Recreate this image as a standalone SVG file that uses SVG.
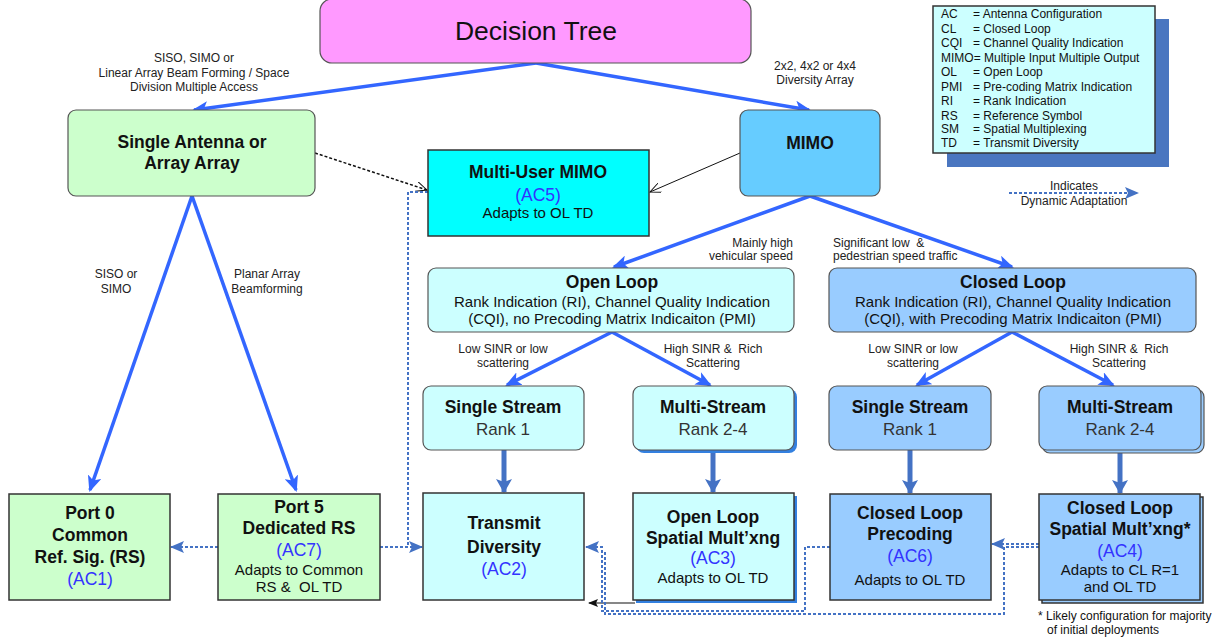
<svg xmlns="http://www.w3.org/2000/svg" width="1225" height="643" viewBox="0 0 1225 643">
<defs>
<style>
text{font-family:"Liberation Sans",Arial,sans-serif;fill:#111;white-space:pre}
.t{font-size:17.5px;font-weight:bold;text-anchor:middle}
.ac{font-size:17.5px;fill:#3333FF;text-anchor:middle}
.rk{font-size:17px;fill:#333;text-anchor:middle}
.d{font-size:15px;text-anchor:middle}
.l{font-size:12px;fill:#222;text-anchor:middle}
.lg{font-size:12px;fill:#111}
.rb{stroke:#555;stroke-width:1.2}
.sq{stroke:#333;stroke-width:1.5}
.fb{fill:none;stroke:#3366FF;stroke-width:3.5}
.fs{fill:none;stroke:#4472C4;stroke-width:5}
.dash{fill:none;stroke:#4472C4;stroke-width:2;stroke-dasharray:3 2}
</style>
<marker id="ab" markerUnits="userSpaceOnUse" viewBox="0 0 16 14" markerWidth="16" markerHeight="14" refX="14" refY="7" orient="auto"><path d="M0,0 L16,7 L0,14 L4,7 z" fill="#3366FF"/></marker>
<marker id="as" markerUnits="userSpaceOnUse" viewBox="0 0 14 16" markerWidth="14" markerHeight="16" refX="13" refY="8" orient="auto"><path d="M0,0 L14,8 L0,16 L3,8 z" fill="#4472C4"/></marker>
<marker id="ad" markerUnits="userSpaceOnUse" viewBox="0 0 14 12" markerWidth="14" markerHeight="12" refX="13" refY="6" orient="auto"><path d="M0,0 L14,6 L0,12 L3,6 z" fill="#4472C4"/></marker>
<marker id="ao" markerUnits="userSpaceOnUse" viewBox="0 0 12 10" markerWidth="12" markerHeight="10" refX="11" refY="5" orient="auto"><path d="M0,0 L11,5 L0,10" fill="none" stroke="#111" stroke-width="1"/></marker>
<marker id="ak" markerUnits="userSpaceOnUse" viewBox="0 0 10 8" markerWidth="10" markerHeight="8" refX="9" refY="4" orient="auto"><path d="M0,0 L10,4 L0,8 L2,4 z" fill="#111"/></marker>
</defs>

<g id="connectors">
<line class="fb" x1="536" y1="63" x2="194" y2="110" marker-end="url(#ab)"/>
<line class="fb" x1="536" y1="63" x2="809" y2="110" marker-end="url(#ab)"/>
<line class="fb" x1="192" y1="196" x2="90" y2="490" marker-end="url(#ab)"/>
<line class="fb" x1="192" y1="196" x2="296" y2="490" marker-end="url(#ab)"/>
<line class="fb" x1="810" y1="196" x2="614" y2="267" marker-end="url(#ab)"/>
<line class="fb" x1="810" y1="196" x2="1012" y2="267" marker-end="url(#ab)"/>
<line class="fb" x1="612" y1="332" x2="507" y2="385" marker-end="url(#ab)"/>
<line class="fb" x1="612" y1="332" x2="710" y2="385" marker-end="url(#ab)"/>
<line class="fb" x1="1012" y1="332" x2="917" y2="385" marker-end="url(#ab)"/>
<line class="fb" x1="1012" y1="332" x2="1113" y2="385" marker-end="url(#ab)"/>
<line class="fs" x1="504" y1="450" x2="504" y2="492" marker-end="url(#as)"/>
<line class="fs" x1="713" y1="450" x2="713" y2="492" marker-end="url(#as)"/>
<line class="fs" x1="910" y1="450" x2="910" y2="493" marker-end="url(#as)"/>
<line class="fs" x1="1120" y1="450" x2="1120" y2="493" marker-end="url(#as)"/>
<line x1="315" y1="153" x2="427" y2="190" stroke="#111" stroke-width="1.5" stroke-dasharray="3 2" marker-end="url(#ao)"/>
<line x1="740" y1="153" x2="650" y2="192" stroke="#111" stroke-width="1" marker-end="url(#ao)"/>
<line class="dash" x1="218" y1="547" x2="171" y2="547" marker-end="url(#ad)"/>
<line class="dash" x1="380" y1="547" x2="422" y2="547" marker-end="url(#ad)"/>
<path class="dash" d="M428,192 H408 V547"/>
<line x1="635" y1="603" x2="589" y2="603" stroke="#111" stroke-width="1.2" marker-end="url(#ak)"/>
<path class="dash" d="M830,547 H805 V611 H602 V547 H586" marker-end="url(#ad)"/>
<path class="dash" d="M1039,547 H1004 V614 H605 V550"/>
<line class="dash" x1="1039" y1="544" x2="992" y2="544" marker-end="url(#ad)"/>
<line class="dash" x1="1009" y1="193" x2="1138" y2="193" marker-end="url(#ad)"/>
</g>

<g id="decision-tree">
<rect x="320" y="-1" width="431" height="64" rx="12" fill="#FF99FF" class="rb"/>
<text x="536" y="40" style="font-size:26.5px;text-anchor:middle">Decision Tree</text>
</g>

<g id="label-left">
<text class="l" x="194" y="62">SISO, SIMO or</text>
<text class="l" x="194" y="76.5">Linear Array Beam Forming / Space</text>
<text class="l" x="194" y="91">Division Multiple Access</text>
</g>
<g id="label-right">
<text class="l" x="815" y="70">2x2, 4x2 or 4x4</text>
<text class="l" x="815" y="84">Diversity Array</text>
</g>

<g id="single-antenna">
<rect x="68" y="110" width="247" height="86" rx="8" fill="#CCFFCC" class="rb"/>
<text class="t" x="192" y="148">Single Antenna or</text>
<text class="t" x="192" y="169">Array Array</text>
</g>

<g id="mimo">
<rect x="740" y="110" width="140" height="86" rx="8" fill="#66CCFF" class="rb"/>
<text class="t" x="810" y="149">MIMO</text>
</g>

<g id="mu-mimo">
<rect x="428" y="150" width="221" height="86" fill="#00FFFF" class="sq"/>
<text class="t" x="538" y="178">Multi-User MIMO</text>
<text class="ac" x="538" y="201">(AC5)</text>
<text class="d" x="538" y="218">Adapts to OL TD</text>
</g>

<g id="legend">
<rect x="947" y="19" width="222" height="148" fill="#4A76C0"/>
<rect x="933" y="6" width="222" height="147" fill="#CCFFFF" class="sq"/>
<text class="lg" x="941" y="18">AC</text><text class="lg" x="973" y="18">= Antenna Configuration</text>
<text class="lg" x="941" y="33">CL</text><text class="lg" x="973" y="33">= Closed Loop</text>
<text class="lg" x="941" y="47">CQI</text><text class="lg" x="973" y="47">= Channel Quality Indication</text>
<text class="lg" x="941" y="62">MIMO= Multiple Input Multiple Output</text>
<text class="lg" x="941" y="76">OL</text><text class="lg" x="973" y="76">= Open Loop</text>
<text class="lg" x="941" y="91">PMI</text><text class="lg" x="973" y="91">= Pre-coding Matrix Indication</text>
<text class="lg" x="941" y="105">RI</text><text class="lg" x="973" y="105">= Rank Indication</text>
<text class="lg" x="941" y="120">RS</text><text class="lg" x="973" y="120">= Reference Symbol</text>
<text class="lg" x="941" y="133">SM</text><text class="lg" x="973" y="133">= Spatial Multiplexing</text>
<text class="lg" x="941" y="147">TD</text><text class="lg" x="973" y="147">= Transmit Diversity</text>
</g>
<g id="legend-key">
<text class="l" x="1074" y="190">Indicates</text>
<text class="l" x="1074" y="205">Dynamic Adaptation</text>
</g>

<g id="labels-mimo">
<text class="l" x="793" y="247" style="text-anchor:end">Mainly high</text>
<text class="l" x="793" y="260" style="text-anchor:end">vehicular speed</text>
<text class="l" x="833" y="247" style="text-anchor:start">Significant low  &amp;</text>
<text class="l" x="833" y="260" style="text-anchor:start">pedestrian speed traffic</text>
</g>

<g id="open-loop">
<rect x="428" y="268" width="366" height="64" rx="8" fill="#CCFFFF" class="rb"/>
<text class="t" x="612" y="288">Open Loop</text>
<text class="d" x="612" y="307">Rank Indication (RI), Channel Quality Indication</text>
<text class="d" x="612" y="324">(CQI), no Precoding Matrix Indicaiton (PMI)</text>
</g>

<g id="closed-loop">
<rect x="829" y="268" width="367" height="64" rx="8" fill="#99CCFF" class="rb"/>
<text class="t" x="1013" y="288">Closed Loop</text>
<text class="d" x="1013" y="307">Rank Indication (RI), Channel Quality Indication</text>
<text class="d" x="1013" y="324">(CQI), with Precoding Matrix Indicaiton (PMI)</text>
</g>

<g id="labels-ol">
<text class="l" x="503" y="353">Low SINR or low</text>
<text class="l" x="503" y="367">scattering</text>
<text class="l" x="713" y="353">High SINR &amp;  Rich</text>
<text class="l" x="713" y="367">Scattering</text>
</g>
<g id="labels-cl">
<text class="l" x="913" y="353">Low SINR or low</text>
<text class="l" x="913" y="367">scattering</text>
<text class="l" x="1119" y="353">High SINR &amp;  Rich</text>
<text class="l" x="1119" y="367">Scattering</text>
</g>
<g id="labels-sa">
<text class="l" x="116" y="278">SISO or</text>
<text class="l" x="116" y="293">SIMO</text>
<text class="l" x="267" y="278">Planar Array</text>
<text class="l" x="267" y="293">Beamforming</text>
</g>

<g id="ol-single">
<rect x="423" y="386" width="161" height="64" rx="8" fill="#CCFFFF" class="rb"/>
<text class="t" x="503" y="413">Single Stream</text>
<text class="rk" x="503" y="435">Rank 1</text>
</g>
<g id="ol-multi">
<rect x="636" y="389" width="161" height="64" rx="8" fill="#3380E0"/>
<rect x="633" y="386" width="161" height="64" rx="8" fill="#CCFFFF" class="rb"/>
<text class="t" x="713" y="413">Multi-Stream</text>
<text class="rk" x="713" y="435">Rank 2-4</text>
</g>
<g id="cl-single">
<rect x="829" y="386" width="162" height="64" rx="8" fill="#99CCFF" class="rb"/>
<text class="t" x="910" y="413">Single Stream</text>
<text class="rk" x="910" y="435">Rank 1</text>
</g>
<g id="cl-multi">
<rect x="1042" y="389" width="162" height="64" rx="8" fill="#99CCFF" class="rb"/>
<rect x="1039" y="386" width="162" height="64" rx="8" fill="#99CCFF" class="rb"/>
<text class="t" x="1120" y="413">Multi-Stream</text>
<text class="rk" x="1120" y="435">Rank 2-4</text>
</g>

<g id="port0">
<rect x="9" y="494" width="161" height="106" fill="#CCFFCC" class="sq"/>
<text class="t" x="90" y="519">Port 0</text>
<text class="t" x="90" y="541">Common</text>
<text class="t" x="90" y="563">Ref. Sig. (RS)</text>
<text class="ac" x="90" y="585">(AC1)</text>
</g>
<g id="port5">
<rect x="218" y="494" width="162" height="106" fill="#CCFFCC" class="sq"/>
<text class="t" x="299" y="513">Port 5</text>
<text class="t" x="299" y="534">Dedicated RS</text>
<text class="ac" x="299" y="556">(AC7)</text>
<text class="d" x="299" y="575">Adapts to Common</text>
<text class="d" x="299" y="592">RS &amp;  OL TD</text>
</g>
<g id="transmit-diversity">
<rect x="423" y="493" width="161" height="107" fill="#CCFFFF" class="sq"/>
<text class="t" x="504" y="529">Transmit</text>
<text class="t" x="504" y="553">Diversity</text>
<text class="ac" x="504" y="575">(AC2)</text>
</g>
<g id="ol-spatial">
<rect x="636" y="496" width="161" height="107" fill="#3380E0"/>
<rect x="633" y="493" width="161" height="107" fill="#CCFFFF" class="sq"/>
<text class="t" x="713" y="523">Open Loop</text>
<text class="t" x="713" y="544">Spatial Mult’xng</text>
<text class="ac" x="713" y="564">(AC3)</text>
<text class="d" x="713" y="583">Adapts to OL TD</text>
</g>
<g id="cl-precoding">
<rect x="830" y="494" width="161" height="106" fill="#99CCFF" class="sq"/>
<text class="t" x="910" y="519">Closed Loop</text>
<text class="t" x="910" y="540">Precoding</text>
<text class="ac" x="910" y="562">(AC6)</text>
<text class="d" x="910" y="585">Adapts to OL TD</text>
</g>
<g id="cl-spatial">
<rect x="1042" y="497" width="161" height="106" fill="#99CCFF" class="sq"/>
<rect x="1039" y="494" width="161" height="106" fill="#99CCFF" class="sq"/>
<text class="t" x="1120" y="514">Closed Loop</text>
<text class="t" x="1120" y="535">Spatial Mult’xng*</text>
<text class="ac" x="1120" y="557">(AC4)</text>
<text class="d" x="1120" y="575">Adapts to CL R=1</text>
<text class="d" x="1120" y="592">and OL TD</text>
</g>
<g id="footnote">
<text class="lg" x="1038" y="620">* Likely configuration for majority</text>
<text class="lg" x="1047" y="634">of initial deployments</text>
</g>
</svg>
